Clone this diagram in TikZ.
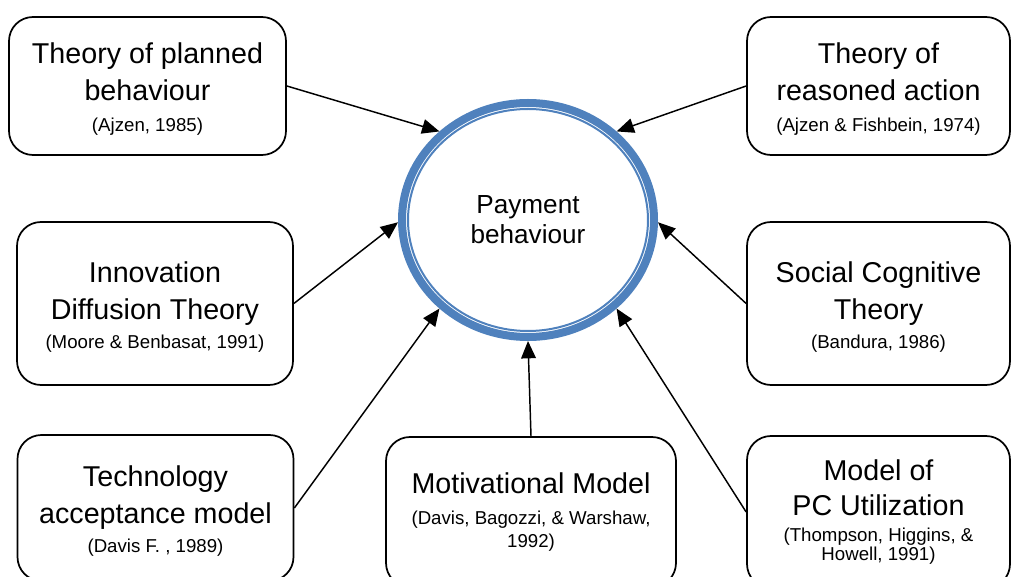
\documentclass[tikz,border=0pt]{standalone}
\usepackage{fontspec}
\setmainfont{Liberation Sans}
\usepackage{xcolor}
\usetikzlibrary{arrows.meta,shapes.geometric}

\definecolor{ringblue}{HTML}{4F81BD}
\newcommand{\refsize}{\fontsize{14}{16.5}\selectfont}
\newcommand{\lowerby}{\rule{0pt}{20.2pt}}

\begin{document}
\begin{tikzpicture}[x=0.75pt,y=-0.75pt,->,>={Triangle[length=13pt,width=11pt]},line width=1.1pt,
  theory node/.style={rectangle,rounded corners=18pt,draw,line width=1.3pt,align=center,
    inner sep=0pt,font=\fontsize{21.5}{27.75}\selectfont},
  main node/.style={ellipse,draw=ringblue,line width=6pt,inner sep=0pt,
    minimum width=189pt,minimum height=175.5pt,align=center,font=\fontsize{19.6}{22.5}\selectfont}]

  \useasboundingbox (0,0) rectangle (1011,577);
  \clip (0,0) rectangle (1011,577);

  \node[main node] (pb) at (528,220) {Payment\\behaviour};
  \draw[-,ringblue,line width=1.5pt] (pb.center) ellipse [x radius=90pt, y radius=83.25pt];

  \node[theory node,minimum width=207.75pt,minimum height=103.5pt] (tpb) at (147.5,86)
    {\lowerby Theory of planned\\behaviour\\[-4.5pt]{\refsize (Ajzen, 1985)}};
  \node[theory node,minimum width=197.25pt,minimum height=103.5pt] (tra) at (878.5,86)
    {\lowerby Theory of\\reasoned action\\[-4.5pt]{\refsize (Ajzen \& Fishbein, 1974)}};
  \node[theory node,minimum width=207pt,minimum height=122.25pt] (idt) at (155,303.5)
    {\lowerby Innovation\\Diffusion Theory\\[-6pt]{\refsize (Moore \& Benbasat, 1991)}};
  \node[theory node,minimum width=197.25pt,minimum height=122.25pt] (sct) at (878.5,303.5)
    {\lowerby Social Cognitive\\Theory\\[-6pt]{\refsize (Bandura, 1986)}};
  \node[theory node,minimum width=207pt,minimum height=109.5pt] (tam) at (155.5,508)
    {\lowerby Technology\\acceptance model\\[-6pt]{\refsize (Davis F. , 1989)}};
  \node[theory node,minimum width=217.5pt,minimum height=112.5pt] (mm) at (531,512)
    {Motivational Model\\[-4.5pt]{\refsize (Davis, Bagozzi, \& Warshaw,}\\[-11pt]{\refsize 1992)}};
  \node[theory node,minimum width=197.25pt,minimum height=114pt] (pcu) at (878.5,512)
    {Model of\\[-1.5pt]PC Utilization\\[-8pt]{\refsize (Thompson, Higgins, \&}\\[-14pt]{\refsize Howell, 1991)}};

  \path
    (tpb.east) edge (pb.135)
    (tra.west) edge (pb.45)
    (idt.east) edge (pb.181)
    (sct.west) edge (pb.-1)
    (tam.east) edge (pb.225)
    (mm.north) edge (pb.270)
    (pcu.west) edge (pb.315);
\end{tikzpicture}
\end{document}
